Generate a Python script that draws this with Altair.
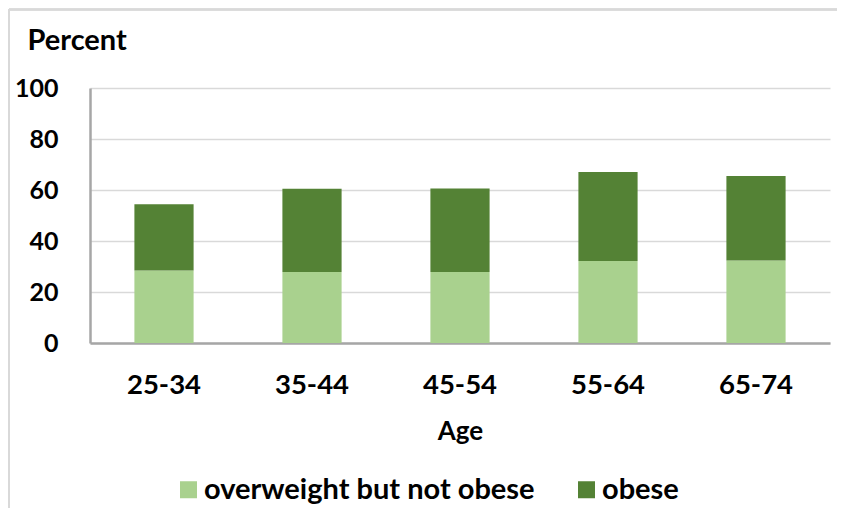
import altair as alt
import pandas as pd

ages = ["25-34", "35-44", "45-54", "55-64", "65-74"]
overweight = [28.4, 27.8, 27.8, 32.2, 32.4]
obese = [26.0, 32.7, 32.8, 34.9, 33.1]
series = ["overweight but not obese", "obese"]
colors = ["#a9d18e", "#548235"]
y_ticks = [0, 20, 40, 60, 80, 100]

rows = []
for a, ow, ob in zip(ages, overweight, obese):
    rows.append({"Age": a, "Category": series[0], "Percent": ow, "order": 0})
    rows.append({"Age": a, "Category": series[1], "Percent": ob, "order": 1})
df = pd.DataFrame(rows)

FONT = "Lato"
W, H = 740, 255

bars = alt.Chart(df).mark_bar().encode(
    x=alt.X("Age:N", sort=ages,
            scale=alt.Scale(paddingInner=0.6, paddingOuter=0.3),
            axis=alt.Axis(title="Age", labelAngle=0, labelFontSize=27.5, labelFont=FONT,
                          labelFontWeight="bold", labelColor="#000000", labelPadding=28,
                          titleFontSize=26, titleFont=FONT, titleFontWeight="bold",
                          titleColor="#000000", titlePadding=20,
                          domainColor="#a6a6a6", domainWidth=2.5, ticks=False, grid=False)),
    y=alt.Y("Percent:Q", stack="zero",
            scale=alt.Scale(domain=[0, 100], nice=False),
            axis=alt.Axis(values=y_ticks, title="Percent", titleAngle=0, titleAlign="left",
                          titleBaseline="middle", titleX=-63, titleY=-48,
                          titleFontSize=29, titleFont=FONT, titleFontWeight="bold",
                          titleColor="#000000",
                          labelFontSize=25, labelFont=FONT, labelFontWeight="bold",
                          labelColor="#000000", labelPadding=32,
                          domainColor="#a6a6a6", domainWidth=2.5, ticks=False,
                          gridColor="#d9d9d9", gridWidth=1.5)),
    color=alt.Color("Category:N", sort=series,
                    scale=alt.Scale(domain=series, range=colors),
                    legend=alt.Legend(title=None, orient="none", direction="horizontal",
                                      legendX=84, legendY=387,
                                      symbolType="square", symbolSize=289,
                                      symbolStrokeWidth=0, symbolOpacity=1,
                                      labelFontSize=29, labelFont=FONT,
                                      labelFontWeight="bold", labelColor="#000000",
                                      labelOffset=1, columnPadding=37,
                                      labelLimit=500)),
    order=alt.Order("order:Q"),
)

frame_top = alt.Chart(df).mark_rule(color="#d9d9d9", strokeWidth=1.5).encode(
    x=alt.value(-81), x2=alt.value(1000), y=alt.value(-78.5)
)
frame_left = alt.Chart(df).mark_rule(color="#d9d9d9", strokeWidth=1.5).encode(
    x=alt.value(-81), y=alt.value(-78.5), y2=alt.value(1000)
)

chart = alt.layer(frame_top, frame_left, bars).properties(
    width=W, height=H,
    autosize=alt.AutoSizeParams(type="none"),
    padding={"left": 82, "top": 80, "right": 7, "bottom": 165},
).configure_view(stroke=None)

chart.save("out.html", embed_options={"renderer": "svg", "actions": False})
